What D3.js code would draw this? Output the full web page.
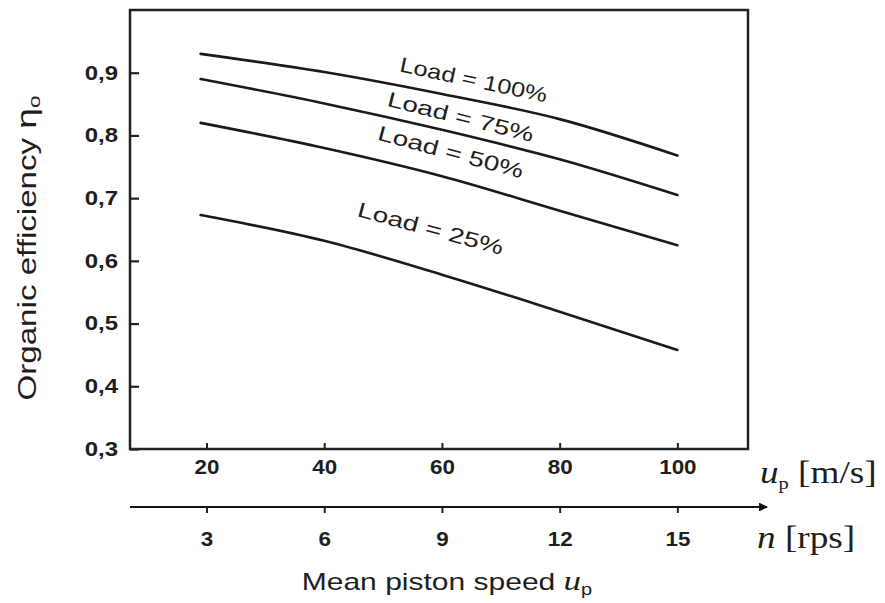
<!DOCTYPE html>
<html>
<head>
<meta charset="utf-8">
<script src="https://cdn.jsdelivr.net/npm/d3@7"></script>
<style>
  body { margin: 0; background: #fff; }
  text { font-family: "Liberation Sans", Arial, sans-serif; fill: #1e1e1e; }
  .serif { font-family: "Liberation Serif", "Times New Roman", serif; }
</style>
</head>
<body>
<div id="chart"></div>
<script>
// Data
const speeds = [19, 40, 60, 80, 100];            // u_p [m/s]
const load100 = [0.930, 0.901, 0.866, 0.826, 0.768];
const load75 = [0.890, 0.851, 0.809, 0.762, 0.705];
const load50 = [0.820, 0.780, 0.735, 0.680, 0.625];
const load25 = [0.673, 0.632, 0.578, 0.519, 0.458];
const loadNames = ["Load = 100%", "Load = 75%", "Load = 50%", "Load = 25%"];
const yTicks = [0.3, 0.4, 0.5, 0.6, 0.7, 0.8, 0.9];
const xTicks = [20, 40, 60, 80, 100];
const nTicks = [3, 6, 9, 12, 15];

const width = 885, height = 603;
const margin = { left: 130, right: 748, top: 10, bottom: 449 };

const svg = d3.select("#chart").append("svg")
  .attr("width", width)
  .attr("height", height);

// stretch text horizontally (the scan is wider than normal type)
function stretch(sel, k) {
  sel.each(function() {
    const len = this.getComputedTextLength();
    d3.select(this).attr("textLength", len * k).attr("lengthAdjust", "spacingAndGlyphs");
  });
}

const x = d3.scaleLinear().domain([7, 112]).range([margin.left, margin.right]);
const y = d3.scaleLinear().domain([0.3, 1.0]).range([margin.bottom, margin.top]);
// rps scale: n = u_p * 3 / 20
const n = d3.scaleLinear().domain([7 * 0.15, 112 * 0.15]).range([margin.left, margin.right]);

const comma = d => d3.format(".1f")(d).replace(".", ",");

// Y axis
const yAxis = svg.append("g")
  .attr("transform", "translate(" + margin.left + ",0)")
  .call(d3.axisLeft(y).tickValues(yTicks).tickSize(-9).tickPadding(12).tickFormat(comma));
yAxis.select(".domain").remove();
yAxis.selectAll("line").attr("stroke", "#222").attr("stroke-width", 2.2);
yAxis.selectAll("text").style("font-size", "20px").style("font-weight", "bold").attr("fill", "#1e1e1e");
stretch(yAxis.selectAll("text"), 1.2);

// X axis (m/s)
const xAxis = svg.append("g")
  .attr("transform", "translate(0," + margin.bottom + ")")
  .call(d3.axisBottom(x).tickValues(xTicks).tickSize(-6).tickPadding(11));
xAxis.select(".domain").remove();
xAxis.selectAll("line").attr("stroke", "#222").attr("stroke-width", 2);
xAxis.selectAll("text").style("font-size", "20px").style("font-weight", "bold").attr("fill", "#2a2a2a");
stretch(xAxis.selectAll("text"), 1.12);

// frame
svg.append("rect")
  .attr("x", margin.left).attr("y", margin.top)
  .attr("width", margin.right - margin.left).attr("height", margin.bottom - margin.top)
  .attr("fill", "none").attr("stroke", "#222").attr("stroke-width", 2.5);

// second axis with arrow (rps)
svg.append("defs").append("marker")
  .attr("id", "arrow")
  .attr("viewBox", "0 0 10 10")
  .attr("refX", 9).attr("refY", 5)
  .attr("markerWidth", 5).attr("markerHeight", 4)
  .attr("markerUnits", "strokeWidth")
  .attr("orient", "auto")
  .append("path").attr("d", "M0,0L10,5L0,10Z").attr("fill", "#111");

const nY = 507;
svg.append("line")
  .attr("x1", margin.left).attr("x2", 767)
  .attr("y1", nY).attr("y2", nY)
  .attr("stroke", "#111").attr("stroke-width", 2.2)
  .attr("marker-end", "url(#arrow)");

const nAxis = svg.append("g")
  .attr("transform", "translate(0," + nY + ")")
  .call(d3.axisBottom(n).tickValues(nTicks).tickSize(6).tickPadding(19));
nAxis.select(".domain").remove();
nAxis.selectAll("line").attr("stroke", "#222").attr("stroke-width", 2);
nAxis.selectAll("text").style("font-size", "20px").style("font-weight", "bold").attr("fill", "#2a2a2a");
stretch(nAxis.selectAll("text"), 1.12);

// curves
const series = [load100, load75, load50, load25];
const line = d3.line()
  .x((d, i) => x(speeds[i]))
  .y(d => y(d))
  .curve(d3.curveMonotoneX);

svg.selectAll(".curve")
  .data(series)
  .enter().append("path")
  .attr("class", "curve")
  .attr("d", line)
  .attr("fill", "none")
  .attr("stroke", "#1a1a1a")
  .attr("stroke-width", 2.6)
  .attr("stroke-linecap", "round");

// curve labels (placed in data units, rotated along the curves)
const labelSpots = [[65.4, 0.889, 12], [63.2, 0.830, 14], [61.5, 0.774, 15], [58.1, 0.652, 15]];
svg.selectAll(".lbl")
  .data(loadNames)
  .enter().append("text")
  .attr("class", "lbl")
  .attr("text-anchor", "middle")
  .attr("dominant-baseline", "central")
  .attr("transform", (d, i) => "translate(" + x(labelSpots[i][0]) + "," + y(labelSpots[i][1]) + ") rotate(" + labelSpots[i][2] + ")")
  .style("font-size", "21px")
  .attr("textLength", 150)
  .attr("lengthAdjust", "spacingAndGlyphs")
  .text(d => d);

// axis unit labels (serif)
const up = svg.append("text").attr("class", "serif")
  .attr("x", 760).attr("y", 483)
  .style("font-size", "31px");
up.append("tspan").style("font-style", "italic").text("u");
up.append("tspan").attr("dy", 6).style("font-size", "17px").text("p");
up.append("tspan").attr("dy", -6).text(" [m/s]");
stretch(up, 1.2);

const nr = svg.append("text").attr("class", "serif")
  .attr("x", 757).attr("y", 548)
  .style("font-size", "31px");
nr.append("tspan").style("font-style", "italic").text("n");
nr.append("tspan").text(" [rps]");
stretch(nr, 1.2);

// x title
const xt = svg.append("text")
  .attr("x", 447).attr("y", 590)
  .attr("text-anchor", "middle")
  .style("font-size", "24px");
xt.append("tspan").text("Mean piston speed ");
xt.append("tspan").attr("class", "serif").style("font-style", "italic").style("font-size", "28px").text("u");
xt.append("tspan").attr("dy", 5).style("font-size", "16px").text("p");
stretch(xt, 1.25);

// y title
const yt = svg.append("text")
  .attr("transform", "translate(36,248) rotate(-90)")
  .attr("text-anchor", "middle")
  .style("font-size", "25px");
yt.append("tspan").text("Organic efficiency ");
yt.append("tspan").style("font-size", "28px").text("η");
yt.append("tspan").attr("dy", 4).style("font-size", "17px").text("o");
yt.attr("textLength", 305).attr("lengthAdjust", "spacingAndGlyphs");
</script>
</body>
</html>
